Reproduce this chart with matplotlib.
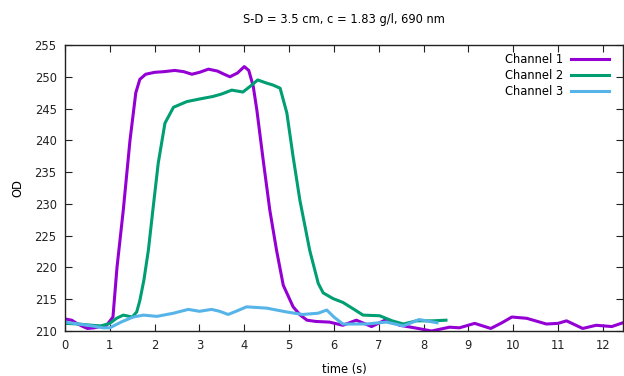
import matplotlib.pyplot as plt

title = "S-D = 3.5 cm, c = 1.83 g/l, 690 nm"

ch1_t = [0.0, 0.15, 0.26, 0.4, 0.5, 0.65, 0.78, 0.93, 1.07, 1.16, 1.3, 1.45, 1.58, 1.67, 1.8, 2.0, 2.2, 2.45, 2.65, 2.83, 3.0, 3.2, 3.4, 3.55, 3.68, 3.85, 4.0, 4.1, 4.2, 4.28, 4.42, 4.57, 4.72, 4.87, 5.09, 5.25, 5.4, 5.6, 5.9, 6.2, 6.5, 6.84, 7.17, 7.47, 7.8, 8.18, 8.58, 8.8, 9.14, 9.5, 9.75, 9.97, 10.3, 10.74, 11.0, 11.19, 11.55, 11.85, 12.2, 12.45]
ch1_od = [211.9, 211.7, 211.2, 210.7, 210.4, 210.5, 210.7, 210.9, 212.2, 220.0, 229.0, 240.0, 247.5, 249.6, 250.4, 250.7, 250.8, 251.0, 250.8, 250.4, 250.7, 251.2, 250.9, 250.4, 250.0, 250.6, 251.6, 251.0, 248.5, 244.8, 237.0, 229.0, 222.7, 217.2, 213.8, 212.5, 211.7, 211.5, 211.4, 210.9, 211.7, 210.7, 211.8, 210.9, 210.5, 210.0, 210.6, 210.5, 211.2, 210.4, 211.3, 212.2, 212.0, 211.1, 211.2, 211.6, 210.4, 210.9, 210.7, 211.3]

ch2_t = [0.0, 0.3, 0.6, 0.8, 1.0, 1.15, 1.3, 1.5, 1.6, 1.67, 1.76, 1.86, 1.96, 2.08, 2.23, 2.42, 2.72, 3.0, 3.3, 3.5, 3.72, 3.97, 4.15, 4.3, 4.5, 4.64, 4.8, 4.95, 5.09, 5.24, 5.46, 5.65, 5.76, 5.98, 6.2, 6.45, 6.65, 7.02, 7.3, 7.55, 7.84, 8.2, 8.5]
ch2_od = [211.2, 211.1, 210.9, 210.8, 211.2, 212.0, 212.5, 212.2, 213.0, 214.8, 218.0, 222.7, 229.0, 236.4, 242.7, 245.2, 246.1, 246.5, 246.9, 247.3, 247.9, 247.6, 248.6, 249.5, 249.0, 248.7, 248.2, 244.3, 237.4, 230.6, 222.7, 217.5, 216.0, 215.1, 214.5, 213.4, 212.5, 212.4, 211.6, 211.1, 211.6, 211.6, 211.7]

ch3_t = [0.0, 0.3, 0.6, 0.85, 1.0, 1.25, 1.52, 1.75, 2.05, 2.42, 2.75, 3.0, 3.27, 3.45, 3.64, 3.85, 4.05, 4.5, 4.94, 5.3, 5.65, 5.84, 6.0, 6.2, 6.72, 7.17, 7.55, 7.9, 8.3]
ch3_od = [211.4, 211.1, 210.8, 210.5, 210.5, 211.4, 212.2, 212.5, 212.3, 212.8, 213.4, 213.1, 213.4, 213.1, 212.6, 213.2, 213.8, 213.6, 213.0, 212.6, 212.8, 213.3, 212.2, 211.1, 211.1, 211.4, 210.8, 211.8, 211.3]

plt.rcParams['font.family'] = ['DejaVu Sans']
plt.rcParams['font.size'] = 8.3

fig = plt.figure(figsize=(6.24, 3.76), dpi=100)
ax = fig.add_axes([65 / 624, 1 - 331 / 376, 558 / 624, 286 / 376])

ax.plot(ch1_t, ch1_od, color="#9400d3", lw=2.2, label="Channel 1")
ax.plot(ch2_t, ch2_od, color="#009e73", lw=2.2, label="Channel 2")
ax.plot(ch3_t, ch3_od, color="#56b4e9", lw=2.2, label="Channel 3")

ax.set_xlim(0, 12.45)
ax.set_ylim(210, 255)
ax.set_xticks(range(0, 13))
ax.set_yticks(range(210, 256, 5))
ax.tick_params(direction="in", length=5, top=True, right=True, colors="#222222", pad=6)
for s in ax.spines.values():
    s.set_color("#222222")
    s.set_linewidth(1)

ax.set_title(title, fontsize=8.3, pad=16)
ax.set_xlabel("time (s)", labelpad=8)
ax.set_ylabel("OD", labelpad=7)
ax.legend(loc="upper right", frameon=False, markerfirst=False, handlelength=3.3,
          handletextpad=0.7, labelspacing=0.25, borderaxespad=0.3,
          bbox_to_anchor=(0.99, 1.0))

plt.savefig("out.png", dpi=100)
